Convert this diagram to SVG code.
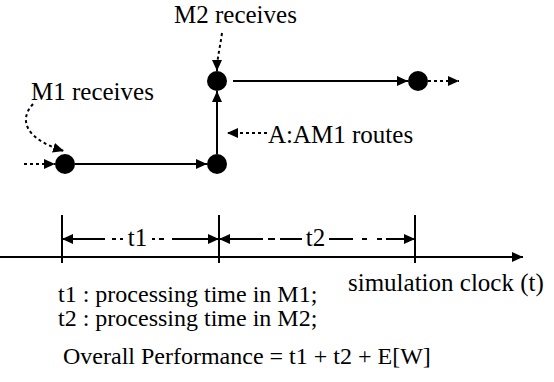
<svg xmlns="http://www.w3.org/2000/svg" width="554" height="382" viewBox="0 0 554 382">
<style>
text{font-family:"Liberation Serif","Times New Roman","DejaVu Serif",serif;fill:#000}
.lbl{font-size:25px}
.bt{font-size:24px}
.s{stroke:#000;stroke-width:2;fill:none}
.d{stroke:#000;stroke-width:2;fill:none;stroke-dasharray:3,3}
.n{fill:#000}
</style>
<defs>
<marker id="ah" markerUnits="userSpaceOnUse" markerWidth="12" markerHeight="10" refX="11" refY="5" orient="auto">
<path d="M0,0 L11,5 L0,10 Z" fill="#000"/>
</marker>
</defs>
<rect width="554" height="382" fill="#fff"/>
<g id="connectors">
<line class="d" x1="24" y1="164" x2="55" y2="164" marker-end="url(#ah)"/>
<line class="s" x1="75" y1="164" x2="207" y2="164" marker-end="url(#ah)"/>
<line class="s" x1="217" y1="154" x2="217" y2="91" marker-end="url(#ah)"/>
<line class="s" x1="233" y1="81" x2="408" y2="81" marker-end="url(#ah)"/>
<line class="d" x1="428" y1="81" x2="459" y2="81" marker-end="url(#ah)"/>
<path class="d" d="M33,104 C20,118 22,138 64,151" marker-end="url(#ah)"/>
<path class="d" d="M222,33 C220,48 217,58 217,71" marker-end="url(#ah)"/>
<line class="d" x1="267" y1="133" x2="227" y2="133" marker-end="url(#ah)"/>
</g>
<g id="node-m1"><circle class="n" cx="65" cy="164" r="10"/></g>
<g id="node-route"><circle class="n" cx="217" cy="164" r="10"/></g>
<g id="node-m2"><circle class="n" cx="217" cy="81" r="10"/></g>
<g id="node-out"><circle class="n" cx="418" cy="81" r="10"/></g>
<g id="labels">
<text class="lbl" x="31" y="100">M1 receives</text>
<text class="lbl" x="174" y="23">M2 receives</text>
<text class="lbl" x="268" y="143">A:AM1 routes</text>
</g>
<g id="timeline">
<line class="s" x1="0" y1="257" x2="523" y2="257" marker-end="url(#ah)"/>
<line class="s" x1="62" y1="215" x2="62" y2="263"/>
<line class="s" x1="219" y1="215" x2="219" y2="263"/>
<line class="s" x1="415" y1="215" x2="415" y2="263"/>
<g class="s">
<line x1="105" y1="239" x2="62" y2="239" marker-end="url(#ah)"/>
<line x1="112" y1="239" x2="116" y2="239"/>
<line x1="120" y1="239" x2="123" y2="239"/>
<line x1="152" y1="239" x2="155" y2="239"/>
<line x1="159" y1="239" x2="164" y2="239"/>
<line x1="172" y1="239" x2="219" y2="239" marker-end="url(#ah)"/>
<line x1="263" y1="239" x2="219" y2="239" marker-end="url(#ah)"/>
<line x1="268" y1="239" x2="275" y2="239"/>
<line x1="280" y1="239" x2="302" y2="239"/>
<line x1="329" y1="239" x2="353" y2="239"/>
<line x1="362" y1="239" x2="367" y2="239"/>
<line x1="377" y1="239" x2="382" y2="239"/>
<line x1="386" y1="239" x2="415" y2="239" marker-end="url(#ah)"/>
</g>
<text class="lbl" x="137.5" y="246" text-anchor="middle">t1</text>
<text class="lbl" x="315.5" y="246" text-anchor="middle">t2</text>
<text class="lbl" x="348" y="291">simulation clock (t)</text>
</g>
<g id="notes">
<text class="bt" x="58" y="302">t1 : processing time in M1;</text>
<text class="bt" x="58" y="326">t2 : processing time in M2;</text>
<text class="bt" x="63" y="364">Overall Performance = t1 + t2 + E[W]</text>
</g>
</svg>
